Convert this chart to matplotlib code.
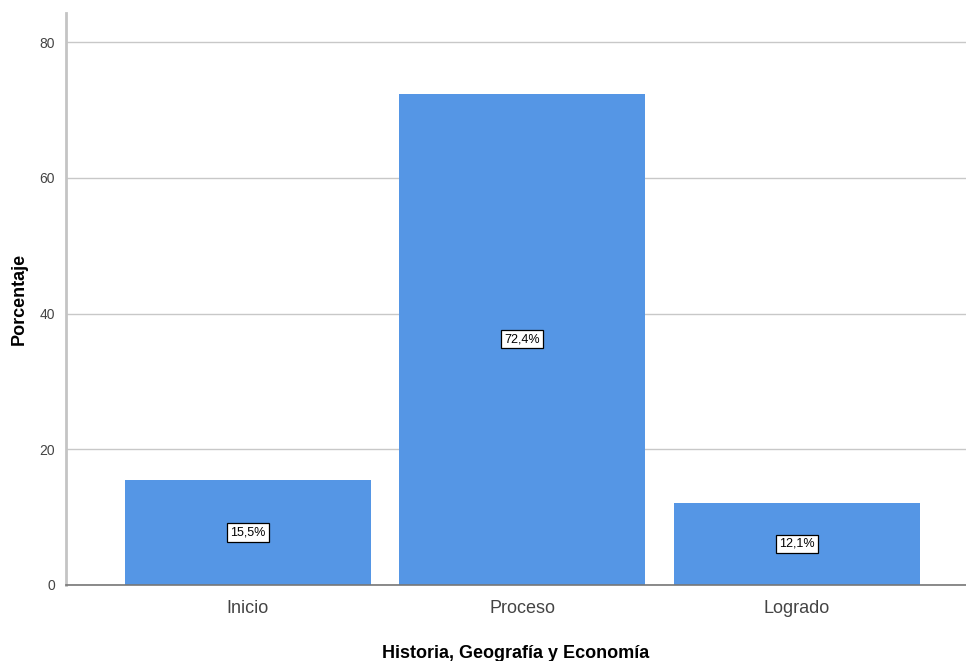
import matplotlib
matplotlib.use("Agg")
import matplotlib.pyplot as plt

# Datos del gráfico
categorias = ["Inicio", "Proceso", "Logrado"]
porcentajes = [15.5, 72.4, 12.1]
etiquetas = ["15,5%", "72,4%", "12,1%"]
yticks = [0, 20, 40, 60, 80]

plt.rcParams['font.family'] = ['Liberation Sans', 'DejaVu Sans']

fig = plt.figure(figsize=(9.66, 6.61), dpi=100)
ax = fig.add_axes([66 / 966, 76 / 661, 900 / 966, 572 / 661])

x = list(range(len(categorias)))
ax.bar(x, porcentajes, width=0.896, color='#5596E5', zorder=2)

# Etiquetas de valor al centro de cada barra
for xi, val, txt in zip(x, porcentajes, etiquetas):
    ax.text(xi, val / 2, txt, ha='center', va='center', fontsize=9,
            zorder=3,
            bbox=dict(boxstyle='square,pad=0.25', fc='white', ec='black', lw=0.9))

ax.set_xlim(-0.663, 2.617)
ax.set_ylim(0, 84.3)
ax.set_yticks(yticks)
ax.set_xticks(x)
ax.set_xticklabels(categorias, fontsize=13, color='#444444')
ax.tick_params(axis='y', labelsize=10, colors='#444444', length=0, pad=8)
ax.tick_params(axis='x', length=0, pad=11)
ax.grid(axis='y', color='#c8c8c8', lw=1.0, zorder=0)

for side in ['top', 'right']:
    ax.spines[side].set_visible(False)
ax.spines['left'].set_color('#c4c4c4')
ax.spines['left'].set_linewidth(2.0)
ax.spines['bottom'].set_color('#777777')
ax.spines['bottom'].set_linewidth(1.2)

ax.set_xlabel("Historia, Geografía y Economía", fontsize=13, fontweight='bold',
              labelpad=20)
ax.set_ylabel("Porcentaje", fontsize=13, fontweight='bold', labelpad=8)

fig.savefig("out.png", dpi=100)
